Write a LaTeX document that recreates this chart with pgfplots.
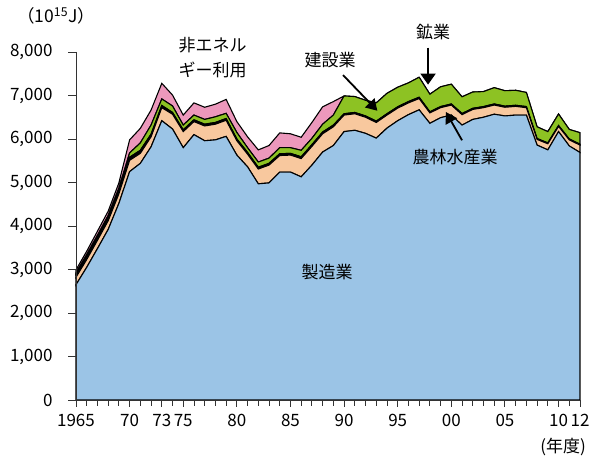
\documentclass[border=0pt]{standalone}
\usepackage{fontspec}
\setmainfont{Noto Sans CJK JP}
\usepackage{pgfplots}
\pgfplotsset{compat=1.18}
\usepackage{pgfplotstable}
\usetikzlibrary{arrows.meta}

\definecolor{cblue}{RGB}{155,196,230}
\definecolor{cpeach}{RGB}{248,200,158}
\definecolor{cgreen}{RGB}{141,194,35}
\definecolor{cpink}{RGB}{236,152,188}

\pgfplotstableread{
year B A M C N
1965 2650 170 70 30 70
1966 3050 180 70 40 80
1967 3480 190 70 45 95
1968 3920 200 70 50 100
1969 4520 220 70 60 120
1970 5250 260 70 100 300
1971 5440 230 70 170 335
1972 5820 230 60 210 345
1973 6420 300 50 150 360
1974 6230 340 40 150 250
1975 5800 370 40 110 230
1976 6100 300 40 110 280
1977 5960 340 40 110 280
1978 5980 360 40 130 290
1979 6060 370 40 120 320
1980 5630 330 40 150 250
1981 5360 290 40 110 250
1982 4970 340 40 120 280
1983 4990 410 40 120 290
1984 5240 380 40 140 340
1985 5240 390 40 130 320
1986 5130 420 40 150 300
1987 5400 430 40 145 365
1988 5700 420 40 180 400
1989 5850 430 40 230 310
1990 6170 380 30 410 0
1991 6200 380 30 365 0
1992 6130 370 30 360 0
1993 6020 360 30 420 0
1994 6250 300 30 470 0
1995 6420 290 30 450 0
1996 6560 270 30 430 0
1997 6670 260 30 460 0
1998 6360 240 25 405 0
1999 6490 230 25 455 0
2000 6550 230 25 455 0
2001 6320 240 25 385 0
2002 6450 230 25 375 0
2003 6500 220 25 345 0
2004 6570 210 25 375 0
2005 6530 200 25 355 0
2006 6550 200 25 345 0
2007 6550 170 25 325 0
2008 5860 130 20 270 0
2009 5750 140 20 260 0
2010 6170 120 20 265 0
2011 5840 140 20 220 0
2012 5690 170 20 265 0
}\data

\begin{document}
\begin{tikzpicture}
\path[use as bounding box] (0pt,0pt) rectangle (600pt,463pt);
\begin{axis}[
  at={(76pt,63pt)}, anchor=south west,
  scale only axis, width=504pt, height=348pt,
  xmin=1965, xmax=2012, ymin=0, ymax=8000,
  axis x line*=bottom, axis y line*=left,
  axis line style={line width=0.9pt, black!80},
  stack plots=y,
  xtick={1965,1970,1973,1975,1980,1985,1990,1995,2000,2005,2010,2012},
  xticklabels={1965,70,73,75,80,85,90,95,00,05,10,12},
  ytick={0,1000,...,8000},
  /pgf/number format/1000 sep={,},
  /pgf/number format/assume math mode=true,
  tick align=outside,
  major tick length=7pt,
  tick style={draw=black!80, line width=0.9pt},
  ticklabel style={font=\fontsize{17}{17}\selectfont},
  xticklabel style={yshift=-4pt},
  yticklabel style={xshift=-13pt},
  clip=false,
]
\addplot[fill=cblue, draw=black, line width=1.1pt] table[x=year,y=B]{\data} \closedcycle;
\addplot[fill=cpeach, draw=black, line width=1.1pt] table[x=year,y=A]{\data} \closedcycle;
\addplot[fill=black, draw=black, line width=1.1pt] table[x=year,y=M]{\data} \closedcycle;
\addplot[fill=cgreen, draw=black, line width=1.1pt] table[x=year,y=C]{\data} \closedcycle;
\addplot[fill=cpink, draw=black, line width=1.1pt] table[x=year,y=N]{\data} \closedcycle;

\coordinate (k1) at (axis cs:1989.9,7470);
\coordinate (k2) at (axis cs:1993.1,6650);
\coordinate (m1) at (axis cs:1997.83,8100);
\coordinate (m2) at (axis cs:1997.83,7250);
\coordinate (n1) at (axis cs:2001.0,5970);
\coordinate (n2) at (axis cs:1999.5,6620);
\end{axis}

% axis lines and ticks (decoration)
\draw[black!80, line width=0.9pt] (76pt,411pt) -- (76pt,63pt) -- (580pt,63pt);
\foreach \i in {0,...,47} \draw[black!80, line width=0.9pt] (76pt+\i*10.7234pt,63pt) -- ++(0pt,-6pt);
\foreach \j in {0,...,8} \draw[black!80, line width=0.9pt] (76pt,63pt+\j*43.5pt) -- ++(-8pt,0pt);

\draw[-{Triangle[length=11pt,width=13pt]}, line width=1.8pt] (k1) -- (k2);
\draw[-{Triangle[length=11pt,width=15pt]}, line width=1.8pt] (m1) -- (m2);
\draw[-{Triangle[length=11pt,width=13pt]}, line width=1.8pt] (n1) -- (n2);

\node[font=\fontsize{17.5}{17.5}\selectfont] at (56pt,447pt) {（10\textsuperscript{15}J）};
\node[font=\fontsize{17}{25}\selectfont, align=left, anchor=west] at (175pt,405.5pt) {非エネル\\ギー利用};
\node[font=\fontsize{17}{17}\selectfont] at (330pt,403pt) {建設業};
\node[font=\fontsize{17}{17}\selectfont] at (433pt,431pt) {鉱業};
\node[font=\fontsize{17}{17}\selectfont] at (455pt,306pt) {農林水産業};
\node[font=\fontsize{17}{17}\selectfont] at (327pt,191pt) {製造業};
\node[font=\fontsize{17}{17}\selectfont] at (563pt,16pt) {(年度)};
\end{tikzpicture}
\end{document}
